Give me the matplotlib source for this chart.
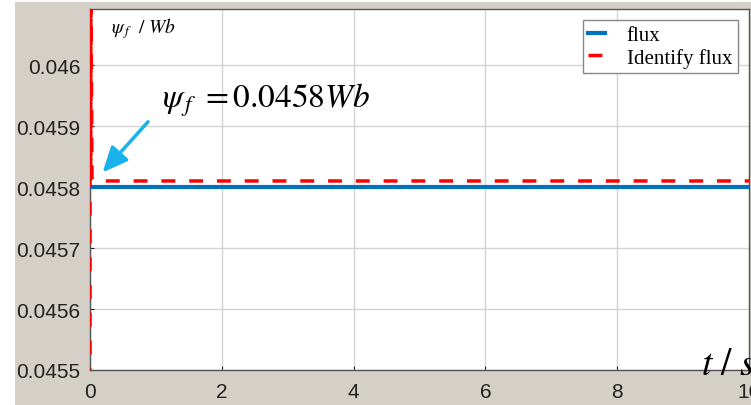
import matplotlib
matplotlib.use("Agg")
import matplotlib.pyplot as plt
from matplotlib.patches import Rectangle

plt.rcParams['mathtext.fontset'] = 'stix'

# data
t_flux = [0, 10]
flux = [0.0458, 0.0458]

# identification starts with a fast oscillation at t ~ 0, then settles
t_ident = [0, 0, 0.001, 0.002, 0.003, 0.004, 0.005, 0.006, 0.007, 0.008,
           0.009, 0.010, 0.011, 0.012, 0.03, 0.06, 0.1, 10]
ident = [0.04548, 0.04615, 0.04582, 0.04613, 0.04583, 0.04617, 0.04582,
         0.04611, 0.04584, 0.04614, 0.04582, 0.04612, 0.04583, 0.04616,
         0.045815, 0.04581, 0.04581, 0.04581]

xticks = [0, 2, 4, 6, 8, 10]
yticks = [0.0455, 0.0456, 0.0457, 0.0458, 0.0459, 0.046]
ytick_labels = ['0.0455', '0.0456', '0.0457', '0.0458', '0.0459', '0.046']

fig = plt.figure(figsize=(7.51, 4.06), dpi=100, facecolor='#d4d0c8')
# white strips at the left and top edge of the screenshot
fig.patches.append(Rectangle((0, 0), 15 / 751, 1, transform=fig.transFigure,
                             facecolor='white', edgecolor='none', zorder=-1))
fig.patches.append(Rectangle((0, 1 - 3 / 406), 1, 3 / 406, transform=fig.transFigure,
                             facecolor='white', edgecolor='none', zorder=-1))

ax = fig.add_axes([90 / 751, 35 / 406, 659 / 751, 361 / 406])
ax.set_facecolor('white')

ax.plot(t_flux, flux, color='#0072bd', lw=3, label='flux', zorder=3)
ax.plot(t_ident, ident, color='#ff0000', lw=2.5, ls=(0, (4, 4)),
        label='Identify flux', zorder=4)

ax.set_xlim(0, 10)
ax.set_ylim(0.0455, 0.046092)
ax.set_xticks(xticks)
ax.set_yticks(yticks)
ax.set_yticklabels(ytick_labels)
ax.grid(True, color='#d4d4d4', lw=1)
ax.set_axisbelow(True)
ax.tick_params(direction='in', length=3, labelsize=15, colors='#222222')
ax.tick_params(axis='y', pad=7)
ax.tick_params(axis='x', pad=9)
for lab in ax.get_xticklabels() + ax.get_yticklabels():
    lab.set_fontfamily('Liberation Sans')
for s in ax.spines.values():
    s.set_color('#555555')
    s.set_linewidth(1)

ax.text(0.032, 0.95, r'$\psi_{\,f}\ \ /\ Wb$', transform=ax.transAxes,
        fontsize=14, va='center', ha='left')
ax.text(0.11, 0.75, r'$\psi_{\,f}\ = 0.0458Wb$', transform=ax.transAxes,
        fontsize=24, va='center', ha='left')
ax.annotate('', xy=(0.19, 0.045824), xytext=(0.88, 0.045907),
            arrowprops=dict(arrowstyle='-|>,head_width=0.4,head_length=0.9',
                            color='#1ab2ec', lw=2.5,
                            mutation_scale=17, shrinkA=0, shrinkB=0))
ax.text(9.27, 0.045493, r'$t\ /\ s$', fontsize=27, va='baseline', ha='left',
        clip_on=False)

leg = ax.legend(loc='upper right', prop={'family': 'Liberation Serif', 'size': 15},
                fancybox=False, edgecolor='#888888', framealpha=1,
                borderaxespad=0.55, handlelength=0.8, labelspacing=0.12,
                borderpad=0.25, handletextpad=1.05)

fig.savefig('out.png', dpi=100, facecolor=fig.get_facecolor())
